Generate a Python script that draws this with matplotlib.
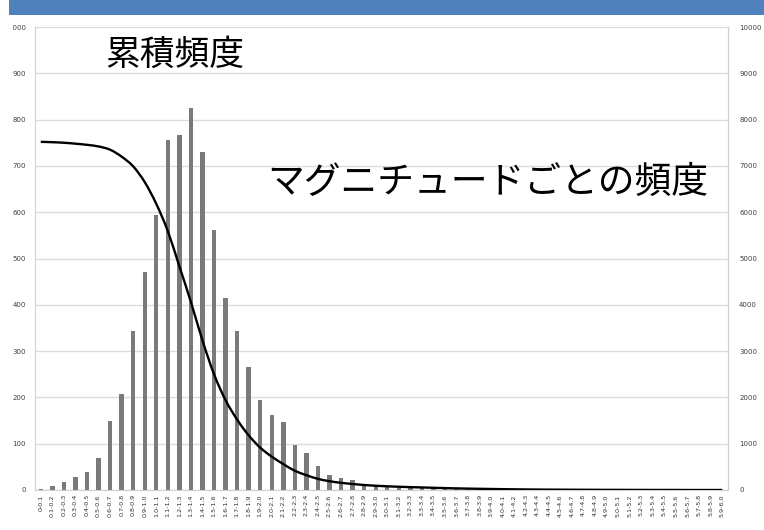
import matplotlib
matplotlib.use('Agg')
import matplotlib.pyplot as plt
from matplotlib.patches import Rectangle, PathPatch
from matplotlib.path import Path

# magnitude bins (0-0.1 ... 5.9-6.0)
labels = ['0-0.1'] + ['%.1f-%.1f' % (i / 10.0, (i + 1) / 10.0) for i in range(1, 60)]

# frequency per magnitude bin (left axis)
counts = [2, 8, 18, 29, 38, 70, 148, 208, 343, 471,
          593, 755, 766, 826, 730, 562, 415, 343, 265, 194,
          161, 146, 98, 80, 51, 33, 25, 22, 11, 10,
          7, 5, 4, 4, 6, 3, 3, 3, 2, 2,
          2, 2, 2, 1, 1, 1, 1, 1, 1, 1,
          0, 0, 0, 0, 0, 0, 0, 0, 0, 0]

# cumulative frequency (right axis)
cumul = [7520, 7512, 7500, 7480, 7455, 7420, 7350, 7200, 6990, 6650,
         6180, 5590, 4830, 4060, 3230, 2500, 1940, 1520, 1180, 915,
         720, 560, 415, 320, 240, 190, 155, 130, 108, 92,
         80, 70, 62, 55, 48, 41, 35, 30, 26, 22,
         18, 15, 12, 10, 8, 7, 6, 5, 4, 3,
         3, 2, 2, 1, 1, 1, 0, 0, 0, 0]

left_ticks = list(range(0, 1001, 100))
right_ticks = list(range(0, 10001, 1000))

jp = ['Noto Sans CJK JP', 'DejaVu Sans']

fig = plt.figure(figsize=(7.64, 5.30), dpi=100)
fig.patch.set_facecolor('white')

# blue band at the top
fig.patches.append(Rectangle((9 / 764.0, 1 - 15 / 530.0), 1, 15 / 530.0,
                             transform=fig.transFigure, facecolor='#4F81BD',
                             edgecolor='none', zorder=0))

ax = fig.add_axes([35 / 764.0, 40 / 530.0, 693 / 764.0, 463 / 530.0])
x = list(range(len(counts)))
ax.bar(x, counts, width=0.38, color='#7a7a7a', zorder=2)
ax.set_xlim(-0.5, 59.5)
ax.set_ylim(0, 1000)
ax.set_yticks(left_ticks)
ax.set_yticklabels([str(v) for v in left_ticks], fontsize=5, color='#404040')
ax.set_xticks(x)
ax.set_xticklabels(labels, rotation=90, fontsize=4.6, color='#303030')
ax.tick_params(axis='x', length=0, pad=3)
ax.tick_params(axis='y', length=0, pad=6.5)
ax.grid(axis='y', color='#dcdcdc', linewidth=1.0)
ax.set_axisbelow(True)
ax.spines['top'].set_visible(False)
for s in ['left', 'right', 'bottom']:
    ax.spines[s].set_color('#d0d0d0')

ax2 = ax.twinx()
ax2.set_ylim(0, 10000)

# smoothed line (Excel style): bezier segments through every data point
verts = [(x[0], cumul[0])]
codes = [Path.MOVETO]
n = len(cumul)
for i in range(n - 1):
    p0 = (x[max(i - 1, 0)], cumul[max(i - 1, 0)])
    p1 = (x[i], cumul[i])
    p2 = (x[i + 1], cumul[i + 1])
    p3 = (x[min(i + 2, n - 1)], cumul[min(i + 2, n - 1)])
    c1 = (p1[0] + (p2[0] - p0[0]) / 6.0, p1[1] + (p2[1] - p0[1]) / 6.0)
    c2 = (p2[0] - (p3[0] - p1[0]) / 6.0, p2[1] - (p3[1] - p1[1]) / 6.0)
    verts += [c1, c2, p2]
    codes += [Path.CURVE4, Path.CURVE4, Path.CURVE4]
ax2.add_patch(PathPatch(Path(verts, codes), facecolor='none', edgecolor='black',
                        linewidth=1.7, zorder=3))

ax2.set_yticks(right_ticks)
ax2.set_yticklabels([str(v) for v in right_ticks], fontsize=5, color='#404040')
ax2.tick_params(axis='y', length=0, pad=8)
for s in ['top', 'left', 'bottom']:
    ax2.spines[s].set_visible(False)
ax2.spines['right'].set_color('#d0d0d0')

# left labels are cropped in the original screenshot
fig.patches.append(Rectangle((0, 0), 13 / 764.0, 1 - 15 / 530.0,
                             transform=fig.transFigure, facecolor='white',
                             edgecolor='none', zorder=5))

fig.text(175 / 764.0, 1 - 55 / 530.0, '累積頻度', family=jp, fontsize=25,
         ha='center', va='center')
fig.text(488 / 764.0, 1 - 182 / 530.0, 'マグニチュードごとの頻度', family=jp,
         fontsize=26.5, ha='center', va='center')

fig.savefig('out.png', dpi=100)
